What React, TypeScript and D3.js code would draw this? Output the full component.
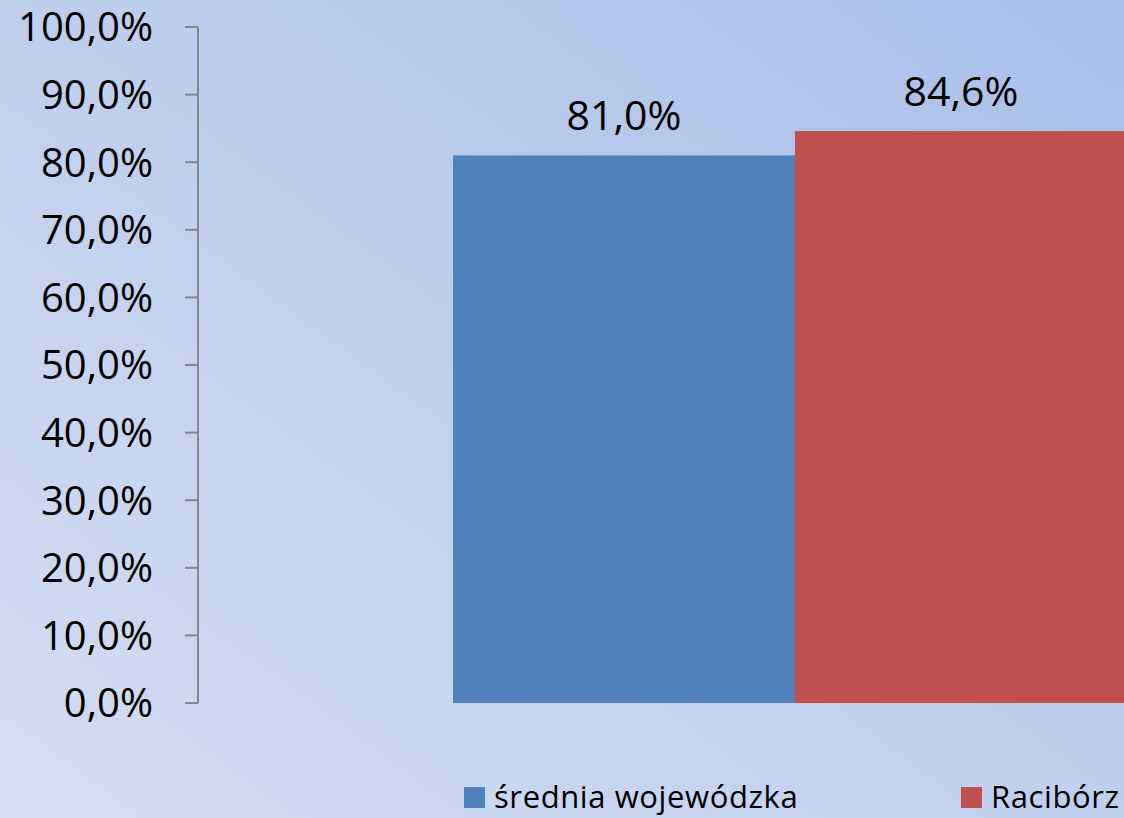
import React from "react";
import * as d3 from "d3";

const seriesNames = ["średnia wojewódzka", "Racibórz"];
const seriesValues = [0.81, 0.846];
const seriesColors = ["#4f81bd", "#c0504d"];
const tickValues = [0, 0.1, 0.2, 0.3, 0.4, 0.5, 0.6, 0.7, 0.8, 0.9, 1.0];

const W = 1124;
const H = 818;
const FONT = "'Open Sans', sans-serif";

const fmt = (v: number) => (v * 100).toFixed(1).replace(".", ",") + "%";

export default function App() {
  const y = d3.scaleLinear().domain([0, 1]).range([703, 27]);
  const x = d3.scaleBand<string>().domain(seriesNames).range([453, 1137]).padding(0);
  const axisX = 198;

  const legendX = [464, 961];

  return (
    <svg
      width={W}
      height={H}
      style={{ position: "fixed", left: 0, top: 0, display: "block" }}
    >
      <defs>
        <linearGradient id="bg" x1="0" y1="1" x2="1" y2="0">
          <stop offset="0" stopColor="#d4def2" />
          <stop offset="1" stopColor="#a9bfe9" />
        </linearGradient>
      </defs>
      <rect x={0} y={0} width={W} height={H} fill="url(#bg)" />

      {seriesNames.map((s, i) => (
        <rect
          key={s}
          x={x(s)!}
          y={y(seriesValues[i])}
          width={x.bandwidth()}
          height={y(0) - y(seriesValues[i])}
          fill={seriesColors[i]}
        />
      ))}

      <line x1={axisX} x2={axisX} y1={y(1)} y2={y(0)} stroke="#878787" strokeWidth={2} />
      {tickValues.map((t) => (
        <g key={t}>
          <line x1={185} x2={axisX} y1={y(t)} y2={y(t)} stroke="#878787" strokeWidth={2} />
          <text
            x={153}
            y={y(t)}
            dy="0.36em"
            textAnchor="end"
            fontFamily={FONT}
            fontSize={40}
            fill="#000"
          >
            {fmt(t)}
          </text>
        </g>
      ))}

      {seriesNames.map((s, i) => (
        <text
          key={s}
          x={x(s)! + x.bandwidth() / 2 - (i === 1 ? 5 : 0)}
          y={y(seriesValues[i]) - 25}
          textAnchor="middle"
          fontFamily={FONT}
          fontSize={41}
          fill="#000"
        >
          {fmt(seriesValues[i])}
        </text>
      ))}

      {seriesNames.map((s, i) => (
        <g key={s}>
          <rect x={legendX[i]} y={787} width={21} height={21} fill={seriesColors[i]} />
          <text
            x={legendX[i] + 30}
            y={808}
            fontFamily={FONT}
            fontSize={31}
            letterSpacing={0.6}
            fill="#000"
          >
            {s}
          </text>
        </g>
      ))}
    </svg>
  );
}
